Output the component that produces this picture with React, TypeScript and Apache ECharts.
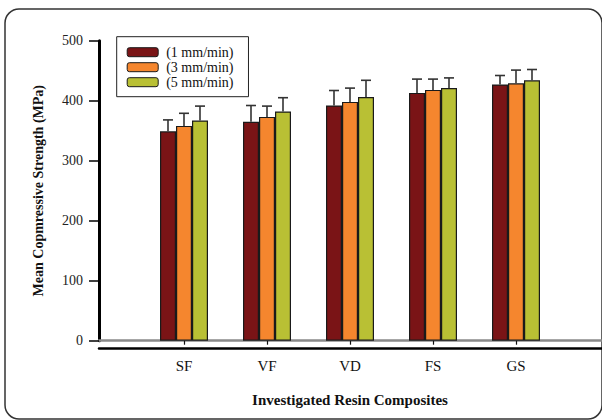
import React, { useEffect, useRef } from "react";
import * as echarts from "echarts";

const categories = ["SF", "VF", "VD", "FS", "GS"];
const seriesNames = ["(1 mm/min)", "(3 mm/min)", "(5 mm/min)"];
const mean1 = [349, 365, 392, 413, 427];
const mean3 = [358, 373, 398, 418, 429];
const mean5 = [367, 382, 406, 421, 434];
const sd1 = [19, 27, 25, 23, 15];
const sd3 = [21, 18, 23, 18, 22];
const sd5 = [24, 23, 28, 17, 18];
const yTicks = [0, 100, 200, 300, 400, 500];

const colors = ["#7a1416", "#f5862e", "#b9c034"];
const FONT = "Liberation Serif";

export default function App() {
  const ref = useRef<HTMLDivElement>(null);
  useEffect(() => {
    if (!ref.current) return;
    const chart = echarts.init(ref.current, null, { renderer: "svg" });
    const means = [mean1, mean3, mean5];
    const sds = [sd1, sd3, sd5];
    const barW = 16;

    const barSeries = means.map((m, s) => ({
      name: seriesNames[s],
      type: "bar",
      xAxisIndex: 0,
      yAxisIndex: 0,
      data: m,
      barWidth: barW,
      barGap: "0%",
      itemStyle: { color: colors[s], borderColor: "#1a1a1a", borderWidth: 1.2 },
      z: 2,
    }));

    const errSeries = means.map((m, s) => ({
      name: "err" + s,
      type: "custom",
      xAxisIndex: 0,
      yAxisIndex: 0,
      z: 3,
      data: m.map((v, i) => [i, v, v + sds[s][i]]),
      renderItem: (params: any, api: any) => {
        const i = api.value(0);
        const top = api.coord([i, api.value(1)]);
        const cap = api.coord([i, api.value(2)]);
        const x = top[0] + (s - 1) * barW;
        const st = { stroke: "#333", lineWidth: 1.6 };
        return {
          type: "group",
          children: [
            { type: "line", shape: { x1: x, y1: top[1], x2: x, y2: cap[1] }, style: st },
            { type: "line", shape: { x1: x - 5, y1: cap[1], x2: x + 5, y2: cap[1] }, style: st },
          ],
        };
      },
    }));

    chart.setOption({
      animation: false,
      textStyle: { fontFamily: FONT },
      grid: [
        { left: 142.5, right: 44.5, top: 40.7, bottom: 79.3 },
        { left: 99, right: 0, top: 40.7, bottom: 79.3 },
      ],
      legend: {
        data: seriesNames,
        orient: "vertical",
        left: 116.7,
        top: 36.7,
        padding: [8, 15, 7, 10],
        borderColor: "#222",
        borderWidth: 1,
        itemWidth: 31,
        itemHeight: 9,
        itemGap: 0,
        itemStyle: { borderColor: "#1a1a1a", borderWidth: 1 },
        textStyle: { fontFamily: FONT, fontSize: 14, lineHeight: 15, color: "#111", padding: [0, 0, 0, 3] },
      },
      xAxis: [
        {
          type: "category",
          gridIndex: 0,
          data: categories,
          offset: 8,
          axisLine: { show: false },
          axisTick: { show: true, alignWithLabel: true, length: 4, lineStyle: { color: "#111", width: 1.2 } },
          axisLabel: { fontFamily: FONT, fontSize: 15, color: "#111", margin: 10 },
          name: "Investigated Resin Composites",
          nameLocation: "middle",
          nameGap: 44,
          nameTextStyle: { fontFamily: FONT, fontSize: 15, fontWeight: "bold", color: "#111" },
        },
        {
          type: "value",
          gridIndex: 1,
          min: 0,
          max: 1,
          axisLine: { show: true, onZero: false, lineStyle: { color: "#8a8a8a", width: 2.5 } },
          axisTick: { show: false },
          axisLabel: { show: false },
          splitLine: { show: false },
        },
        {
          type: "value",
          gridIndex: 1,
          min: 0,
          max: 1,
          position: "bottom",
          offset: 8,
          axisLine: { show: true, onZero: false, lineStyle: { color: "#000", width: 2.5 } },
          axisTick: { show: false },
          axisLabel: { show: false },
          splitLine: { show: false },
        },
      ],
      yAxis: [
        {
          type: "value",
          gridIndex: 0,
          min: yTicks[0],
          max: yTicks[yTicks.length - 1],
          interval: 100,
          offset: 43.5,
          axisLine: { show: true, lineStyle: { color: "#000", width: 3 } },
          axisTick: { show: true, length: 10, lineStyle: { color: "#000", width: 1.5 } },
          axisLabel: { fontFamily: FONT, fontSize: 14, color: "#222", margin: 16 },
          splitLine: { show: false },
          name: "Mean Copmressive Strength (MPa)",
          nameLocation: "middle",
          nameGap: 54,
          nameTextStyle: { fontFamily: FONT, fontSize: 14, fontWeight: "bold", color: "#111" },
        },
        {
          type: "value",
          gridIndex: 1,
          min: 0,
          max: 1,
          show: false,
        },
      ],
      graphic: [
        {
          type: "rect",
          shape: { x: 5, y: 9, width: 597, height: 410, r: 14 },
          style: { fill: "none", stroke: "#333", lineWidth: 1.5 },
          z: -1,
        },
      ],
      series: [...barSeries, ...errSeries],
    });
    return () => chart.dispose();
  }, []);
  return <div ref={ref} style={{ width: 602, height: 420, position: "absolute", left: 0, top: 0 }} />;
}
